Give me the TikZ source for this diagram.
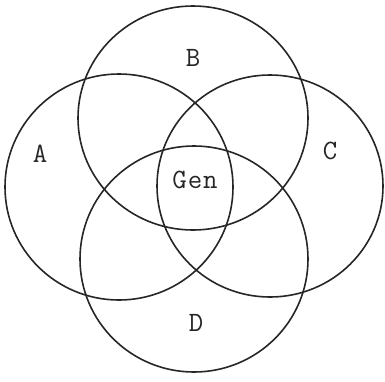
\documentclass[tikz,border=0pt]{standalone}
\begin{document}
\begin{tikzpicture}[x=1pt,y=-1pt,
  ring/.style={draw=black!85, line width=1.6pt},
  lab/.style={font=\ttfamily\fontsize{28}{30}\selectfont, text=black!85, inner sep=0pt}]
\fill[white] (0,0) rectangle (385,381);
\useasboundingbox (0,0) rectangle (385,381);
\draw[ring] (119,187) ellipse [x radius=114, y radius=113];
\draw[ring] (193,118) ellipse [x radius=115, y radius=112];
\draw[ring] (270,186) ellipse [x radius=113, y radius=111];
\draw[ring] (194,259) ellipse [x radius=114, y radius=113];
\node[lab] (a) at (40,154) {A};
\node[lab] (b) at (193,58) {B};
\node[lab] (c) at (330,151) {C};
\node[lab] (d) at (196,323) {D};
\node[lab] (g) at (195,180) {G\kern1pt e\kern1pt n};
\end{tikzpicture}
\end{document}
